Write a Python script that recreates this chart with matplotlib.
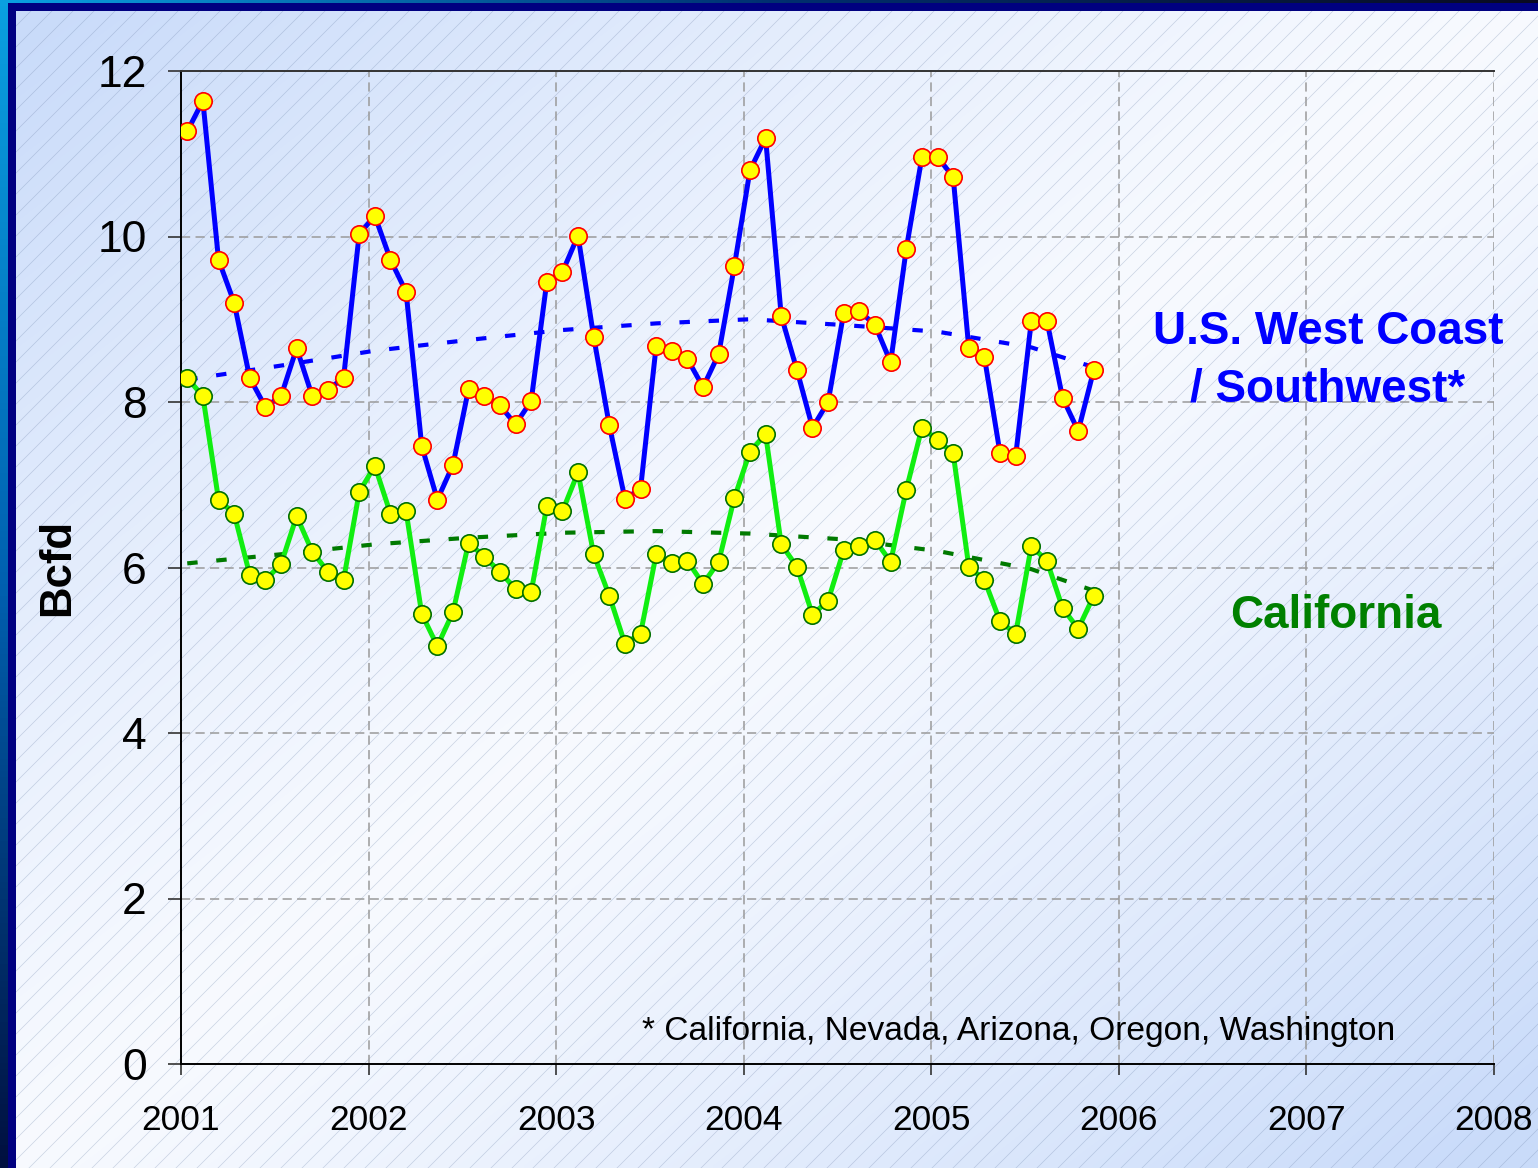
import numpy as np
import matplotlib
matplotlib.use("Agg")
import matplotlib.pyplot as plt
from matplotlib.patches import Rectangle
from matplotlib.lines import Line2D

plt.rcParams['font.family'] = ['Liberation Sans', 'DejaVu Sans']

# ---------------- data (monthly, Jan 2001 - Nov 2005) ----------------
start_year = 2001
west_coast = [11.27, 11.64, 9.72, 9.20, 8.29, 7.94, 8.07, 8.65, 8.07, 8.15, 8.29, 10.03,
              10.25, 9.72, 9.33, 7.47, 6.82, 7.24, 8.16, 8.07, 7.96, 7.73, 8.01, 9.45,
              9.57, 10.01, 8.79, 7.72, 6.83, 6.95, 8.68, 8.62, 8.52, 8.18, 8.58, 9.64,
              10.80, 11.19, 9.04, 8.39, 7.69, 8.00, 9.08, 9.10, 8.93, 8.48, 9.85, 10.96,
              10.96, 10.72, 8.65, 8.54, 7.38, 7.35, 8.98, 8.98, 8.05, 7.65, 8.39]
california = [8.29, 8.07, 6.82, 6.65, 5.91, 5.85, 6.04, 6.62, 6.19, 5.95, 5.85, 6.91,
              7.23, 6.65, 6.68, 5.44, 5.05, 5.46, 6.30, 6.13, 5.95, 5.74, 5.70, 6.74,
              6.68, 7.15, 6.16, 5.66, 5.08, 5.20, 6.16, 6.05, 6.08, 5.80, 6.07, 6.84,
              7.40, 7.61, 6.28, 6.01, 5.43, 5.60, 6.21, 6.26, 6.33, 6.07, 6.94, 7.69,
              7.54, 7.38, 6.01, 5.85, 5.35, 5.20, 6.26, 6.08, 5.51, 5.26, 5.66]
# trend lines at these month indices
trend_months = [0, 6, 12, 18, 24, 30, 36, 42, 48, 54, 58]
trend_west = [8.27, 8.44, 8.62, 8.75, 8.87, 8.95, 9.00, 8.93, 8.85, 8.66, 8.42]
trend_ca = [6.05, 6.16, 6.28, 6.36, 6.42, 6.44, 6.41, 6.34, 6.20, 5.98, 5.72]

year_ticks = [2001, 2002, 2003, 2004, 2005, 2006, 2007, 2008]
y_ticks = [0, 2, 4, 6, 8, 10, 12]
west_label = "U.S. West Coast\n/ Southwest*"
ca_label = "California"
y_label = "Bcfd"
footnote = "* California, Nevada, Arizona, Oregon, Washington"

months = np.arange(len(west_coast))
x = start_year + (months + 0.4) / 12.0
xt = start_year + (np.array(trend_months) + 0.4) / 12.0

# ---------------- figure ----------------
W, H = 1538, 1168
fig = plt.figure(figsize=(W / 100, H / 100), dpi=100)

bg = fig.add_axes([0, 0, 1, 1], zorder=-10)
bg.axis('off')

gx, gy = np.meshgrid(np.linspace(0, 1, 300), np.linspace(0, 1, 230))
t = np.clip(np.abs(gx + gy - 1.0) * 1.05, 0, 1) ** 1.2
blue = np.array([0.79, 0.86, 0.98])
white = np.array([0.97, 0.98, 1.0])
img = white[None, None, :] * (1 - t[..., None]) + blue[None, None, :] * t[..., None]
bg.imshow(img, extent=[0, W, H, 0], aspect='auto', interpolation='bilinear', zorder=0)

# diagonal hatch lines
step = 21
for c in np.arange(-H, W + H, step):
    bg.add_line(Line2D([c, c + H], [H, 0], color=(0.42, 0.50, 0.66), alpha=0.32,
                       lw=0.5, zorder=1))

# frame strips
left_strip = np.linspace(0, 1, 200)[:, None]
cmap_left = matplotlib.colors.LinearSegmentedColormap.from_list('l', ['#0aa0e0', '#0060b0', '#001040'])
bg.imshow(left_strip, extent=[0, 8, H, 0], cmap=cmap_left, aspect='auto', zorder=3)
top_strip = np.linspace(0, 1, 200)[None, :]
cmap_top = matplotlib.colors.LinearSegmentedColormap.from_list('t', ['#0aa0e0', '#003070', '#0a0a20'])
bg.imshow(top_strip, extent=[0, W, 3, 0], cmap=cmap_top, aspect='auto', zorder=3)
bg.add_patch(Rectangle((8, 3), 8, H, color='#000080', zorder=4, lw=0))
bg.add_patch(Rectangle((8, 3), W, 8, color='#000080', zorder=4, lw=0))
bg.set_xlim(0, W)
bg.set_ylim(H, 0)

# main axes
ax = fig.add_axes([181 / W, 1 - 1064 / H, (1494 - 181) / W, (1064 - 71) / H])
ax.set_facecolor('none')
ax.set_xlim(2001, 2008)
ax.set_ylim(0, 12)

ax.grid(True, color='#9a9a9a', lw=1.1, linestyle=(0, (6, 3.5)))
ax.set_axisbelow(True)
ax.spines['right'].set_visible(False)
for s in ['left', 'bottom', 'top']:
    ax.spines[s].set_color('black')
    ax.spines[s].set_linewidth(1.4)
ax.spines['top'].set_color('#333333')

ax.set_xticks(year_ticks)
ax.set_xticklabels([str(v) for v in year_ticks])
ax.set_yticks(y_ticks)
ax.set_yticklabels([str(v) for v in y_ticks])
ax.tick_params(axis='y', direction='out', length=9.5, width=1.2, color='#333333',
               labelsize=32, pad=15)
ax.tick_params(axis='x', direction='out', length=8, width=1.2, color='#333333',
               labelsize=25.5, pad=21)

# trend lines
ax.plot(xt, trend_west, color='#0000ff', lw=3.0, linestyle=(0, (2.5, 4.5)), zorder=3)
ax.plot(xt, trend_ca, color='#007a00', lw=3.0, linestyle=(0, (2.5, 4.5)), zorder=3)

# data lines
ax.plot(x, west_coast, color='#0000ff', lw=3.6, zorder=4,
        marker='o', markersize=12.5, markerfacecolor='#ffff00',
        markeredgecolor='#ff0000', markeredgewidth=1.2)
ax.plot(x, california, color='#11ee11', lw=3.6, zorder=4,
        marker='o', markersize=12.5, markerfacecolor='#ffff00',
        markeredgecolor='#007000', markeredgewidth=1.2)

# labels
fig.text(58 / W, 1 - 567 / H, y_label, fontsize=31.5, fontweight='bold',
         rotation=90, ha='center', va='center')

ax.text(2007.115, 8.50, west_label, color='#0000ff', fontsize=33, fontweight='bold',
        ha='center', va='center', linespacing=1.38, zorder=5)
ax.text(2007.155, 5.41, ca_label, color='#008000', fontsize=33, fontweight='bold',
        ha='center', va='center', zorder=5)
ax.text(2003.46, 0.39, footnote, color='black', fontsize=24.1, ha='left', va='center', zorder=5)

fig.savefig('out.png', dpi=100)
